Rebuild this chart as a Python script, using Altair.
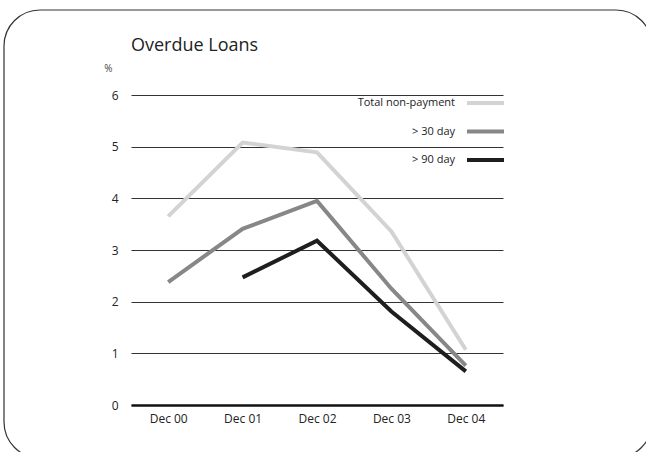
import altair as alt
import pandas as pd

chart_title = "Overdue Loans"
periods = ["Dec 00", "Dec 01", "Dec 02", "Dec 03", "Dec 04"]
series_names = ["Total non-payment", "> 30 day", "> 90 day"]
total_nonpayment = [3.65, 5.08, 4.89, 3.36, 1.07]
over_30 = [2.38, 3.41, 3.95, 2.25, 0.76]
over_90 = [None, 2.47, 3.18, 1.81, 0.65]
series_colors = ["#d3d3d3", "#878787", "#1e1e1e"]

rows = []
for name, vals in zip(series_names, [total_nonpayment, over_30, over_90]):
    for p, v in zip(periods, vals):
        if v is not None:
            rows.append({"period": p, "value": v, "series": name})
df = pd.DataFrame(rows)
legend_df = pd.DataFrame({"series": series_names})

FONT = "Open Sans"
color = alt.Color("series:N", scale=alt.Scale(domain=series_names, range=series_colors), legend=None)

frame = alt.Chart(pd.DataFrame({"a": [0]})).mark_rect(
    filled=False, fill=None, stroke="#333333", strokeWidth=1.2, cornerRadius=36, clip=False
).encode(x=alt.value(-127), x2=alt.value(521), y=alt.value(-85), y2=alt.value(363))

title_text = alt.Chart(pd.DataFrame({"t": [chart_title]})).mark_text(
    align="left", baseline="alphabetic", fontSize=18, font=FONT, color="#222222"
).encode(x=alt.value(0), y=alt.value(-44), text="t:N")

lines = alt.Chart(df).mark_line(strokeWidth=4, strokeCap="butt", strokeJoin="miter").encode(
    x=alt.X("period:N", sort=periods, scale=alt.Scale(type="point", padding=0.5),
            axis=alt.Axis(title=None, labelAngle=0, ticks=False, grid=False,
                          domainColor="#111111", domainWidth=2.5, labelPadding=8,
                          labelFontSize=12, labelFont=FONT, labelColor="#222222")),
    y=alt.Y("value:Q", scale=alt.Scale(domain=[0, 6], nice=False),
            axis=alt.Axis(values=[0, 1, 2, 3, 4, 5, 6], format="d", ticks=False, domain=False,
                          grid=True, gridColor="#333333", gridWidth=1, labelPadding=13,
                          labelFontSize=12, labelFont=FONT, labelColor="#222222",
                          title="%", titleAngle=0, titleX=-23, titleY=-27, titleAlign="center",
                          titleBaseline="middle", titleFontSize=10, titleFontWeight="normal",
                          titleFont=FONT, titleColor="#444444")),
    color=color,
    order=alt.Order("series:N"),
)

legend_y = alt.Y("series:N", scale=alt.Scale(type="point", domain=series_names, range=[8, 65], padding=0), axis=None)

legend_rules = alt.Chart(legend_df).mark_rule(strokeWidth=4).encode(
    x=alt.value(336), x2=alt.value(373), y=legend_y, color=color
)
legend_text = alt.Chart(legend_df).mark_text(
    align="right", baseline="middle", fontSize=11, font=FONT, color="#222222"
).encode(x=alt.value(324), y=legend_y, text="series:N")

chart = alt.layer(frame, title_text, lines, legend_rules, legend_text).resolve_scale(y="independent").properties(
    width=372, height=310,
    autosize=alt.AutoSizeParams(type="none"),
    padding={"left": 131, "top": 95, "right": 143, "bottom": 47},
    background="white",
).configure_view(stroke=None)

chart.save("out.html", embed_options={"renderer": "svg", "actions": False})
